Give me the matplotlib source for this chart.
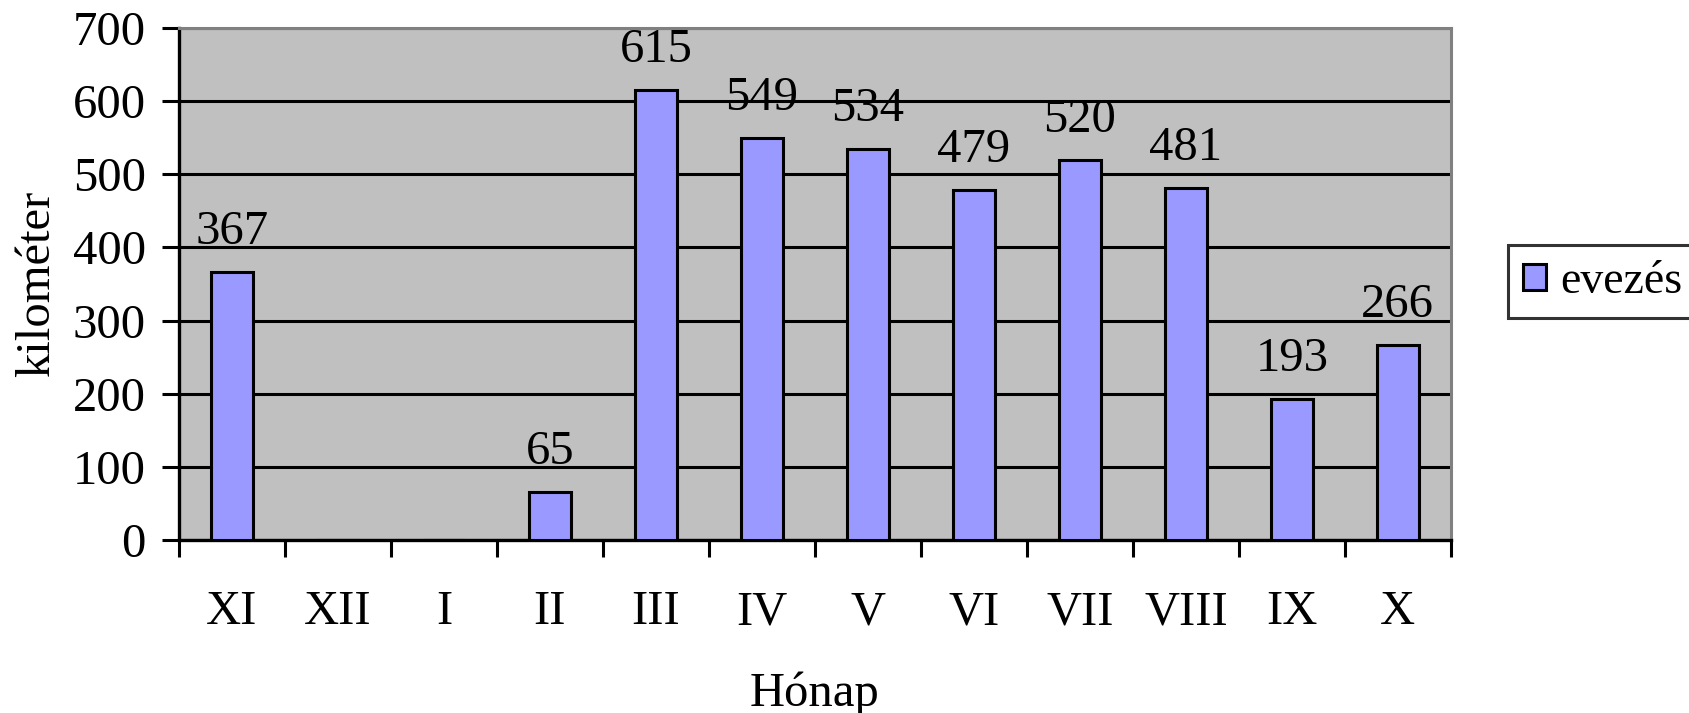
import numpy as np
import matplotlib.pyplot as plt

# Data
months = ['XI', 'XII', 'I', 'II', 'III', 'IV', 'V', 'VI', 'VII', 'VIII', 'IX', 'X']
km = [367, 0, 0, 65, 615, 549, 534, 479, 520, 481, 193, 266]
series_name = 'evezés'

plt.rcParams['font.family'] = ['Liberation Serif', 'DejaVu Serif']
fs = 35

fig = plt.figure(figsize=(16.89, 7.13), dpi=100)
ax = fig.add_axes([0.106, 0.2426, 0.753, 0.7181])

x = np.arange(len(months))
bars = ax.bar(x, km, width=0.4, color='#9999FF', edgecolor='black',
              linewidth=2.2, label=series_name, zorder=3)

for xi, v in zip(x, km):
    if v > 0:
        ax.annotate(str(v), (xi, v), xytext=(0, 13), textcoords='offset points',
                    ha='center', va='bottom', fontsize=fs)

# Axes styling
ax.set_facecolor('#C0C0C0')
ax.set_xlim(-0.5, len(months) - 0.5)
ax.set_ylim(0, 700)
ax.set_yticks(np.arange(0, 701, 100))
ax.yaxis.grid(True, color='black', linewidth=2.2, zorder=1)
ax.set_axisbelow(True)

ax.set_xticks(np.arange(-0.5, len(months), 1))
ax.set_xticklabels([])
ax.set_xticks(x, minor=True)
ax.set_xticklabels(months, minor=True)
ax.tick_params(axis='x', which='major', length=12, width=2.2, direction='out')
ax.tick_params(axis='x', which='minor', length=0, pad=36, labelsize=fs)
ax.tick_params(axis='y', length=12, width=2.2, direction='out', labelsize=fs, pad=12)

for side in ['left', 'bottom']:
    ax.spines[side].set_linewidth(2.4)
    ax.spines[side].set_color('black')
for side in ['top', 'right']:
    ax.spines[side].set_linewidth(2.2)
    ax.spines[side].set_color('#808080')

ax.set_xlabel('Hónap', fontsize=fs, labelpad=27)
ax.set_ylabel('kilométer', fontsize=fs, labelpad=10)

leg = ax.legend(loc='upper left', bbox_to_anchor=(0.893, 0.656),
                bbox_transform=fig.transFigure, fontsize=33, frameon=True,
                fancybox=False, edgecolor='black', facecolor='white',
                handlelength=0.5, handleheight=0.5, handletextpad=0.3,
                borderpad=0.33, borderaxespad=0)
leg.get_frame().set_linewidth(2.2)

fig.savefig('out.png', dpi=100)
